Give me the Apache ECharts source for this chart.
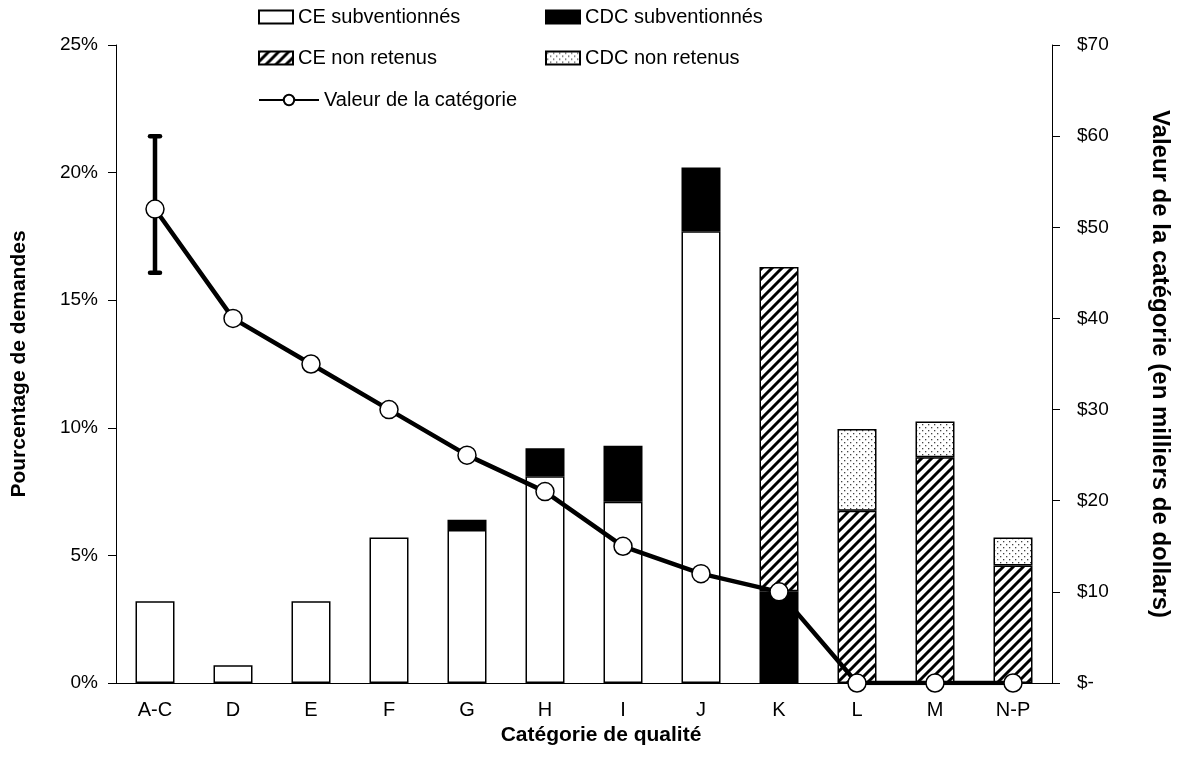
<!DOCTYPE html>
<html>
<head>
<meta charset="utf-8">
<script src="https://cdn.jsdelivr.net/npm/echarts@6/dist/echarts.min.js"></script>
<style>
  html, body { margin: 0; padding: 0; background: #fff; }
  #chart { width: 1182px; height: 776px; }
</style>
</head>
<body>
<div id="chart"></div>
<script>
// catégories et valeurs
var categories = ["A-C", "D", "E", "F", "G", "H", "I", "J", "K", "L", "M", "N-P"];
var ceSubventionnes = [3.2, 0.7, 3.2, 5.7, 6.0, 8.1, 7.1, 17.7, 0, 0, 0, 0];
var cdcSubventionnes = [0, 0, 0, 0, 0.4, 1.1, 2.2, 2.5, 3.6, 0, 0, 0];
var ceNonRetenus = [0, 0, 0, 0, 0, 0, 0, 0, 12.7, 6.75, 8.85, 4.6];
var cdcNonRetenus = [0, 0, 0, 0, 0, 0, 0, 0, 0, 3.2, 1.4, 1.1];
var valeurCategorie = [52, 40, 35, 30, 25, 21, 15, 12, 10, 0, 0, 0];
// barre d'erreur sur A-C : [index, bas, haut]
var erreurValeur = [[0, 45, 60]];

var FONT = "Liberation Sans, Arial, sans-serif";

// motifs (hachures et pointillés)
function hatchPattern() {
  var c = document.createElement("canvas");
  c.width = 10; c.height = 10;
  var ctx = c.getContext("2d");
  ctx.fillStyle = "#fff";
  ctx.fillRect(0, 0, 10, 10);
  ctx.strokeStyle = "#000";
  ctx.lineWidth = 3;
  ctx.beginPath();
  ctx.moveTo(-2, 12); ctx.lineTo(12, -2);
  ctx.moveTo(-7, 7); ctx.lineTo(7, -7);
  ctx.moveTo(3, 17); ctx.lineTo(17, 3);
  ctx.stroke();
  return c;
}
function dotPattern() {
  var c = document.createElement("canvas");
  c.width = 6; c.height = 6;
  var ctx = c.getContext("2d");
  ctx.fillStyle = "#fff";
  ctx.fillRect(0, 0, 6, 6);
  ctx.fillStyle = "#444";
  ctx.fillRect(1, 1, 1.3, 1.3);
  ctx.fillRect(4, 4, 1.3, 1.3);
  return c;
}

function noZero(arr) {
  return arr.map(function (v) { return v === 0 ? null : v; });
}

var myChart = echarts.init(document.getElementById("chart"));

function legendAt(name, left, top, w, icon) {
  return {
    data: [name],
    left: left,
    top: top,
    padding: 0,
    icon: icon,
    itemWidth: w || 34,
    itemHeight: 13,
    selectedMode: false,
    textStyle: { color: "#000", fontSize: 20, fontFamily: FONT }
  };
}

var barBorder = { borderColor: "#000", borderWidth: 1.5 };
var titleStyle = { color: "#000", fontWeight: "bold", fontFamily: FONT };

var option = {
  animation: false,
  backgroundColor: "#fff",
  legend: [
    legendAt("CE subventionnés", 258, 7, 34, "rect"),
    legendAt("CDC subventionnés", 545, 7, 34, "rect"),
    legendAt("CE non retenus", 258, 48, 34, "rect"),
    legendAt("CDC non retenus", 545, 48, 34, "rect"),
    legendAt("Valeur de la catégorie", 258, 90, 60)
  ],
  grid: { left: 116, right: 130, top: 45, bottom: 93 },
  xAxis: {
    type: "category",
    data: categories,
    name: "Catégorie de qualité",
    nameLocation: "middle",
    nameGap: 40,
    nameTextStyle: Object.assign({ fontSize: 21, padding: [0, 0, 0, 34] }, titleStyle),
    axisLine: { lineStyle: { color: "#000", width: 1 } },
    axisTick: { length: 7, lineStyle: { color: "#000" } },
    axisLabel: { color: "#000", fontSize: 20, fontFamily: FONT, margin: 17 }
  },
  yAxis: [
    {
      type: "value",
      min: 0, max: 25, interval: 5,
      name: "Pourcentage de demandes",
      nameLocation: "middle",
      nameGap: 86,
      nameTextStyle: Object.assign({ fontSize: 21 }, titleStyle),
      splitLine: { show: false },
      axisLine: { show: true, lineStyle: { color: "#000", width: 1 } },
      axisTick: { show: true, length: 8, lineStyle: { color: "#000" } },
      axisLabel: { color: "#000", fontSize: 19, fontFamily: FONT, margin: 18, formatter: "{value}%" }
    },
    {
      type: "value",
      position: "right",
      min: 0, max: 70, interval: 10,
      name: "Valeur de la catégorie (en milliers de dollars)",
      nameLocation: "middle",
      nameGap: 96,
      nameRotate: -90,
      nameTextStyle: Object.assign({ fontSize: 24 }, titleStyle),
      splitLine: { show: false },
      axisLine: { show: true, lineStyle: { color: "#000", width: 1 } },
      axisTick: { show: true, length: 8, lineStyle: { color: "#000" } },
      axisLabel: {
        color: "#000", fontSize: 19, fontFamily: FONT, margin: 25,
        formatter: function (v) { return v === 0 ? "$-" : "$" + v; }
      }
    }
  ],
  series: [
    {
      name: "CE subventionnés",
      type: "bar",
      stack: "total",
      barWidth: 39,
      itemStyle: Object.assign({ color: "#fff" }, barBorder),
      data: noZero(ceSubventionnes)
    },
    {
      name: "CDC subventionnés",
      type: "bar",
      stack: "total",
      itemStyle: Object.assign({ color: "#000" }, barBorder),
      data: noZero(cdcSubventionnes)
    },
    {
      name: "CE non retenus",
      type: "bar",
      stack: "total",
      itemStyle: Object.assign({ color: { image: hatchPattern(), repeat: "repeat" } }, barBorder),
      data: noZero(ceNonRetenus)
    },
    {
      name: "CDC non retenus",
      type: "bar",
      stack: "total",
      itemStyle: Object.assign({ color: { image: dotPattern(), repeat: "repeat" } }, barBorder),
      data: noZero(cdcNonRetenus)
    },
    {
      name: "erreur",
      type: "custom",
      yAxisIndex: 1,
      z: 4,
      data: erreurValeur,
      encode: { x: 0, y: [1, 2] },
      renderItem: function (params, api) {
        var lo = api.coord([api.value(0), api.value(1)]);
        var hi = api.coord([api.value(0), api.value(2)]);
        var style = { stroke: "#000", lineWidth: 4.5, lineCap: "round" };
        return {
          type: "group",
          children: [
            { type: "line", shape: { x1: lo[0], y1: lo[1], x2: hi[0], y2: hi[1] }, style: style },
            { type: "line", shape: { x1: lo[0] - 5, y1: lo[1], x2: lo[0] + 5, y2: lo[1] }, style: style },
            { type: "line", shape: { x1: hi[0] - 5, y1: hi[1], x2: hi[0] + 5, y2: hi[1] }, style: style }
          ]
        };
      }
    },
    {
      name: "Valeur de la catégorie",
      type: "line",
      yAxisIndex: 1,
      z: 5,
      symbol: "circle",
      symbolSize: 18,
      lineStyle: { color: "#000", width: 4.5 },
      itemStyle: { color: "#fff", borderColor: "#000", borderWidth: 1.5 },
      data: valeurCategorie
    }
  ]
};

myChart.setOption(option);
</script>
</body>
</html>
